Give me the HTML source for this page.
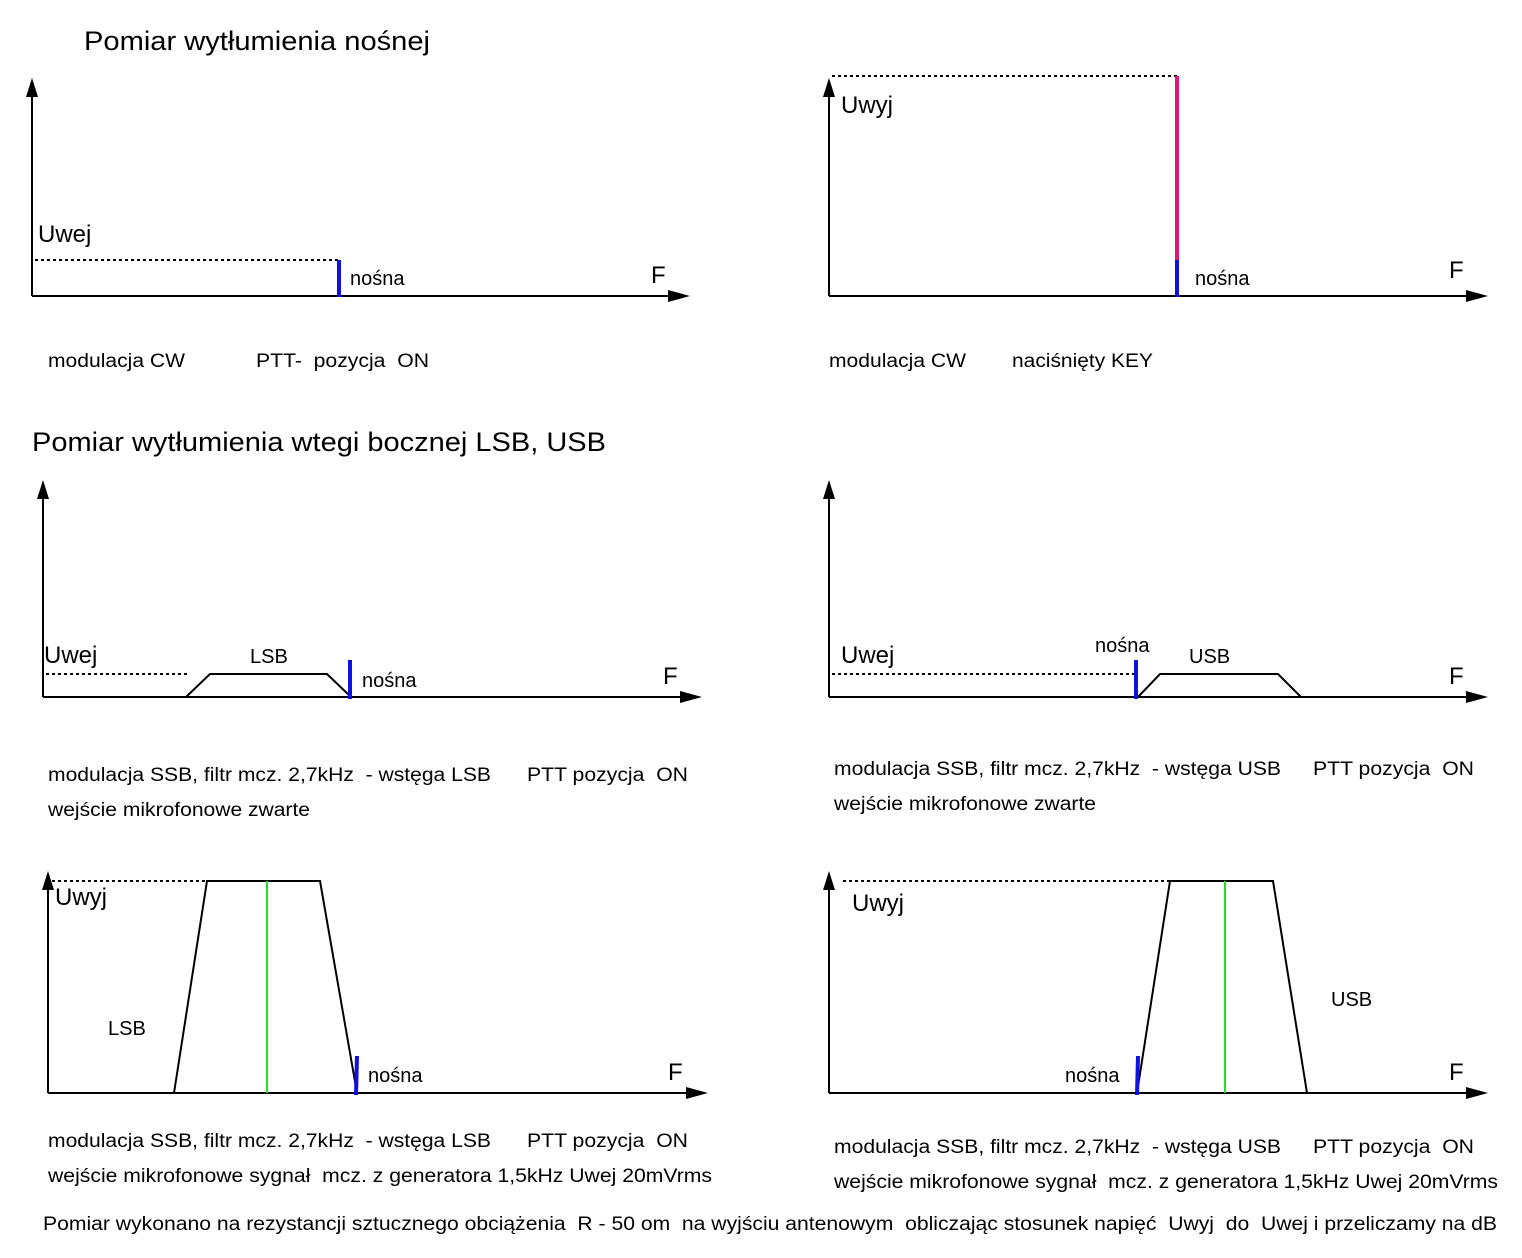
<!DOCTYPE html>
<html><head><meta charset="utf-8"><style>
html,body{margin:0;padding:0;background:#fff;}
svg{display:block;}
text{font-family:"Liberation Sans",sans-serif;fill:#000;white-space:pre;}
.s{font-size:19px;}
.n{font-size:20px;}
.m{font-size:24px;}
.t{font-size:27px;}
</style></head><body>
<svg width="1522" height="1258" viewBox="0 0 1522 1258" xmlns="http://www.w3.org/2000/svg" xml:space="preserve">
<g stroke="#000" stroke-width="2" fill="none">
<line x1="32" y1="90" x2="32" y2="296"/><line x1="32" y1="296" x2="672" y2="296"/>
<line x1="829" y1="90" x2="829" y2="296"/><line x1="829" y1="296" x2="1470" y2="296"/>
<line x1="43" y1="492" x2="43" y2="697"/><line x1="43" y1="697" x2="684" y2="697"/>
<polyline points="186,697 210,674 327,674 351,697"/>
<line x1="829" y1="492" x2="829" y2="697"/><line x1="829" y1="697" x2="1470" y2="697"/>
<polyline points="1138,697 1160,674 1278,674 1301,697"/>
<line x1="48" y1="882" x2="48" y2="1093"/><line x1="48" y1="1093" x2="690" y2="1093"/>
<polyline points="174,1093 207,881 320,881 357,1093"/>
<line x1="829" y1="882" x2="829" y2="1093"/><line x1="829" y1="1093" x2="1470" y2="1093"/>
<polyline points="1137,1093 1170,881 1273,881 1307,1093"/>
</g>
<g fill="#000">
<polygon points="32,78 26,97 38,97"/><polygon points="690,296 668,290 668,302"/>
<polygon points="829,78 823,97 835,97"/><polygon points="1488,296 1466,290 1466,302"/>
<polygon points="43,480 37,499 49,499"/><polygon points="702,697 680,691 680,703"/>
<polygon points="829,480 823,499 835,499"/><polygon points="1488,697 1466,691 1466,703"/>
<polygon points="48,871 42,890 54,890"/><polygon points="708,1093 686,1087 686,1099"/>
<polygon points="829,871 823,890 835,890"/><polygon points="1488,1093 1466,1087 1466,1099"/>
</g>
<g stroke="#000" stroke-width="2" stroke-dasharray="3,3" fill="none">
<line x1="35" y1="260" x2="338" y2="260"/>
<line x1="832" y1="76" x2="1177" y2="76"/>
<line x1="46" y1="674" x2="187" y2="674"/>
<line x1="832" y1="674" x2="1136" y2="674"/>
<line x1="52" y1="881" x2="207" y2="881"/>
<line x1="843" y1="881" x2="1170" y2="881"/>
</g>
<g stroke-width="4" stroke="#1010e0">
<line x1="339" y1="260" x2="339" y2="297"/>
<line x1="1177" y1="260" x2="1177" y2="297"/>
<line x1="350" y1="660" x2="350" y2="699"/>
<line x1="1136" y1="660" x2="1136" y2="699"/>
<line x1="357" y1="1056" x2="356" y2="1095"/>
<line x1="1138" y1="1056" x2="1137" y2="1095"/>
</g>
<line x1="1177" y1="76" x2="1177" y2="260" stroke="#e0187c" stroke-width="4"/>
<g stroke="#20e020" stroke-width="2">
<line x1="267" y1="881" x2="267" y2="1093"/>
<line x1="1225" y1="881" x2="1225" y2="1093"/>
</g>

<text class="t" x="84" y="50" textLength="346" lengthAdjust="spacingAndGlyphs">Pomiar wytłumienia nośnej</text>
<text class="t" x="32" y="451" textLength="574" lengthAdjust="spacingAndGlyphs">Pomiar wytłumienia wtegi bocznej LSB, USB</text>

<text class="m" x="38" y="242">Uwej</text>
<text class="n" x="350" y="285">nośna</text>
<text class="m" x="651" y="283">F</text>
<text class="m" x="841" y="113">Uwyj</text>
<text class="n" x="1195" y="285">nośna</text>
<text class="m" x="1449" y="278">F</text>

<text class="s" x="48" y="367" textLength="137" lengthAdjust="spacingAndGlyphs">modulacja CW</text>
<text class="s" x="256" y="367" textLength="173" lengthAdjust="spacingAndGlyphs">PTT-  pozycja  ON</text>
<text class="s" x="829" y="367" textLength="137" lengthAdjust="spacingAndGlyphs">modulacja CW</text>
<text class="s" x="1012" y="367" textLength="141" lengthAdjust="spacingAndGlyphs">naciśnięty KEY</text>

<text class="m" x="44" y="663">Uwej</text>
<text class="n" x="250" y="663">LSB</text>
<text class="n" x="362" y="687">nośna</text>
<text class="m" x="663" y="684">F</text>
<text class="m" x="841" y="663">Uwej</text>
<text class="n" x="1095" y="652">nośna</text>
<text class="n" x="1189" y="663">USB</text>
<text class="m" x="1449" y="684">F</text>

<text class="s" x="48" y="781" textLength="443" lengthAdjust="spacingAndGlyphs">modulacja SSB, filtr mcz. 2,7kHz  - wstęga LSB</text>
<text class="s" x="527" y="781" textLength="161" lengthAdjust="spacingAndGlyphs">PTT pozycja  ON</text>
<text class="s" x="48" y="816" textLength="262" lengthAdjust="spacingAndGlyphs">wejście mikrofonowe zwarte</text>
<text class="s" x="834" y="775" textLength="447" lengthAdjust="spacingAndGlyphs">modulacja SSB, filtr mcz. 2,7kHz  - wstęga USB</text>
<text class="s" x="1313" y="775" textLength="161" lengthAdjust="spacingAndGlyphs">PTT pozycja  ON</text>
<text class="s" x="834" y="810" textLength="262" lengthAdjust="spacingAndGlyphs">wejście mikrofonowe zwarte</text>

<text class="m" x="55" y="905">Uwyj</text>
<text class="n" x="108" y="1035">LSB</text>
<text class="n" x="368" y="1082">nośna</text>
<text class="m" x="668" y="1080">F</text>
<text class="m" x="852" y="911">Uwyj</text>
<text class="n" x="1331" y="1006">USB</text>
<text class="n" x="1065" y="1082">nośna</text>
<text class="m" x="1449" y="1080">F</text>

<text class="s" x="48" y="1147" textLength="443" lengthAdjust="spacingAndGlyphs">modulacja SSB, filtr mcz. 2,7kHz  - wstęga LSB</text>
<text class="s" x="527" y="1147" textLength="161" lengthAdjust="spacingAndGlyphs">PTT pozycja  ON</text>
<text class="s" x="48" y="1182" textLength="664" lengthAdjust="spacingAndGlyphs">wejście mikrofonowe sygnał  mcz. z generatora 1,5kHz Uwej 20mVrms</text>
<text class="s" x="834" y="1153" textLength="447" lengthAdjust="spacingAndGlyphs">modulacja SSB, filtr mcz. 2,7kHz  - wstęga USB</text>
<text class="s" x="1313" y="1153" textLength="161" lengthAdjust="spacingAndGlyphs">PTT pozycja  ON</text>
<text class="s" x="834" y="1188" textLength="664" lengthAdjust="spacingAndGlyphs">wejście mikrofonowe sygnał  mcz. z generatora 1,5kHz Uwej 20mVrms</text>

<text class="s" x="43" y="1230" textLength="1454" lengthAdjust="spacingAndGlyphs">Pomiar wykonano na rezystancji sztucznego obciążenia  R - 50 om  na wyjściu antenowym  obliczając stosunek napięć  Uwyj  do  Uwej i przeliczamy na dB</text>
</svg>
</body></html>
